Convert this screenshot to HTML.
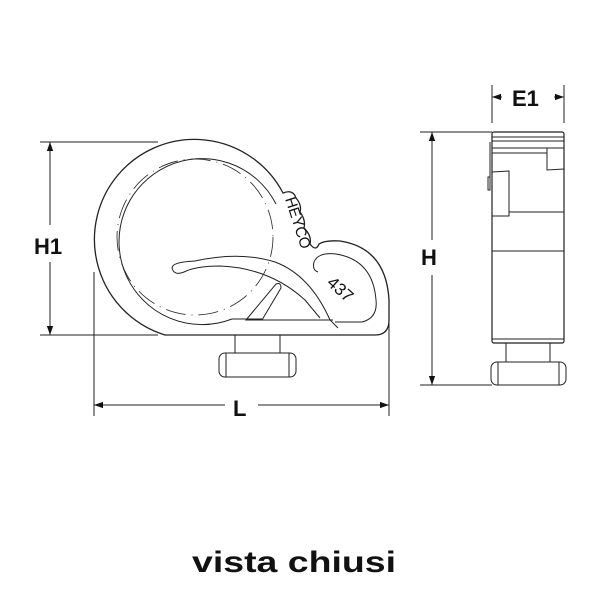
<!DOCTYPE html>
<html><head><meta charset="utf-8"><style>
html,body{margin:0;padding:0;background:#fff;width:600px;height:600px;overflow:hidden}
</style></head><body>
<svg width="600" height="600" viewBox="0 0 600 600" xmlns="http://www.w3.org/2000/svg" font-family="Liberation Sans, Arial, sans-serif">
<defs>
<marker id="a" viewBox="0 0 10 10" refX="10" refY="5" markerWidth="9" markerHeight="9" orient="auto-start-reverse" markerUnits="userSpaceOnUse"><path d="M0,1.5 L10,5 L0,8.5z" fill="#111"/></marker>
</defs>
<g fill="none" stroke="#222" stroke-width="1">
<line x1="40" y1="142" x2="158" y2="142"/>
<line x1="40" y1="335" x2="158" y2="335"/>
<line x1="50" y1="142" x2="50" y2="225" marker-start="url(#a)"/>
<line x1="50" y1="262" x2="50" y2="335" marker-end="url(#a)"/>
<line x1="94" y1="272" x2="94" y2="416"/>
<line x1="389" y1="315" x2="389" y2="416"/>
<line x1="94" y1="405" x2="225" y2="405" marker-start="url(#a)"/>
<line x1="258" y1="405" x2="389" y2="405" marker-end="url(#a)"/>
<path d="M375,335 L165,335 A100,100 0 1 1 283,193 Q293,189 296,198 Q302,205 300,212 Q306,220 304,228 Q312,236 310,244 Q316,252 319,244 Q325,240 340,241 Q386,248 389,300 L389,320 Q389,335 375,335 Z" stroke-width="1.3"/>
<path d="M276,204 A83,83 0 1 0 232,319 L262,319"/>
<path d="M195,261 Q240,251 275,262 Q310,275 330,320 L338,328"/>
<path d="M195,261 Q172,262 172,268 Q174,276 184,272 Q196,266 220,266 Q270,268 305,300 L320,318"/>
<path d="M246,320 L276,284 Q281,282 281,288 L262,320 Z"/>
<path d="M262,320 L333,320"/>
<path d="M314,262 Q318,252 336,254 Q373,260 376,300 Q378,318 362,322 L335,322"/>
<path d="M314,262 Q312,270 318,272"/>
<circle cx="195" cy="237" r="78" stroke-dasharray="20 6 1 6" stroke-width="0.8"/>
<rect x="235" y="335" width="45" height="18"/>
<rect x="219" y="353" width="77" height="24" rx="6"/>
<line x1="226" y1="353" x2="226" y2="377"/><line x1="289" y1="353" x2="289" y2="377"/>
<line x1="420" y1="132" x2="492" y2="132"/>
<line x1="420" y1="385" x2="492" y2="385"/>
<line x1="432" y1="132" x2="432" y2="240" marker-start="url(#a)"/>
<line x1="432" y1="275" x2="432" y2="385" marker-end="url(#a)"/>
<line x1="492" y1="85" x2="492" y2="123"/>
<line x1="564" y1="85" x2="564" y2="123"/>
<line x1="492" y1="97" x2="502" y2="97" marker-start="url(#a)"/>
<line x1="554" y1="97" x2="564" y2="97" marker-end="url(#a)"/>
<rect x="492" y="132" width="72" height="211" rx="2" stroke-width="1.2"/>
<line x1="492" y1="137" x2="564" y2="137"/>
<line x1="492" y1="141" x2="564" y2="141"/>
<line x1="492" y1="148" x2="564" y2="148"/>
<line x1="492" y1="153" x2="547" y2="153"/>
<path d="M547,148 L547,170 L564,169"/>
<path d="M492,172 L509,171 L509,216 L492,216"/>
<path d="M490,142 L490,190 M488,177 L490,177 L490,190 L488,190z"/>
<line x1="509" y1="212" x2="564" y2="212"/>
<line x1="492" y1="251" x2="564" y2="251"/>
<line x1="492" y1="339" x2="564" y2="339"/>
<rect x="506" y="343" width="44" height="19"/>
<rect x="491" y="362" width="75" height="23" rx="6"/>
<line x1="498" y1="362" x2="498" y2="385"/><line x1="559" y1="362" x2="559" y2="385"/>
</g>
<g fill="#111">
<text x="285" y="199" font-size="15" transform="rotate(72 285 199)">HEYCO</text>
<text x="326" y="284" font-size="17" transform="rotate(42 326 284)">437</text>
<text x="34" y="254" font-size="22" font-weight="bold">H1</text>
<text x="233" y="416" font-size="22" font-weight="bold">L</text>
<text x="421" y="265" font-size="22" font-weight="bold">H</text>
<text x="512" y="106" font-size="22" font-weight="bold">E1</text>
<text x="192" y="572" font-size="30" font-weight="bold" textLength="204" lengthAdjust="spacingAndGlyphs">vista chiusi</text>
</g>
</svg>
</body></html>
